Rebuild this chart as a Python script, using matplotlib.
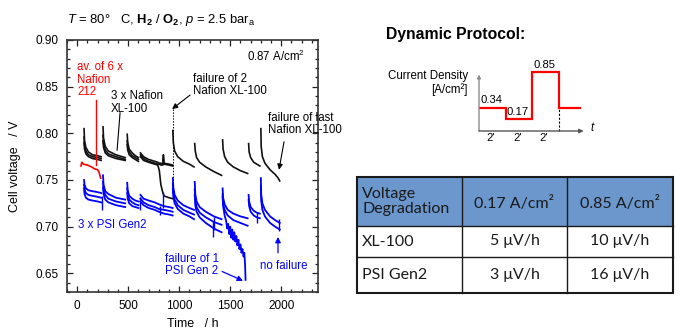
import numpy as np
import matplotlib
matplotlib.use("Agg")
import matplotlib.pyplot as plt
from matplotlib.patches import Rectangle
from matplotlib.ticker import MultipleLocator

plt.rcParams['font.family'] = ['Liberation Sans', 'DejaVu Sans']
plt.rcParams['mathtext.fontset'] = 'custom'
plt.rcParams['mathtext.rm'] = 'Liberation Sans'
plt.rcParams['mathtext.it'] = 'Liberation Sans:italic'
plt.rcParams['mathtext.bf'] = 'Liberation Sans:bold'

# ---------------- data ----------------
# time points (h) of each load-cycle segment, Nafion XL-100 cells
xl_seg_t = [
    [67, 72, 85, 110, 150, 200, 235],
    [253, 258, 275, 305, 380, 470],
    [490, 495, 510, 540, 570, 600],
    [620, 650, 700, 760, 790, 805, 820, 840, 845, 850, 900, 935],
    [937, 942, 955, 985, 1040, 1100, 1145],
    [1152, 1157, 1170, 1200, 1260, 1340, 1415],
    [1425, 1430, 1445, 1475, 1530, 1600, 1670],
    [1680, 1685, 1700, 1730, 1760, 1790],
    [1800, 1803, 1815, 1840, 1890, 1940, 1970, 1985],
]
xl_cell1 = [
    [0.805, 0.792, 0.785, 0.780, 0.777, 0.776, 0.775],
    [0.807, 0.795, 0.786, 0.781, 0.777, 0.774],
    [0.799, 0.790, 0.783, 0.779, 0.776, 0.774],
    [0.779, 0.775, 0.772, 0.770, 0.769, 0.768, 0.768, 0.767, 0.777, 0.768, 0.767, 0.766],
    [0.803, 0.790, 0.781, 0.775, 0.770, 0.767, 0.764],
    [0.789, 0.781, 0.774, 0.769, 0.764, 0.759, 0.755],
    [0.793, 0.783, 0.775, 0.769, 0.764, 0.760, 0.757],
    [0.789, 0.780, 0.774, 0.769, 0.767, 0.765],
    [0.805, 0.786, 0.775, 0.768, 0.761, 0.756, 0.752, 0.749],
]
xl_cell2 = [
    [0.796, 0.787, 0.781, 0.777, 0.775, 0.774, 0.773],
    [0.798, 0.789, 0.782, 0.778, 0.775, 0.772],
    [0.792, 0.786, 0.780, 0.776, 0.774, 0.772],
    [0.777, 0.773, 0.770, 0.768, 0.767, 0.767, 0.766, 0.766, 0.773, 0.767, 0.766, 0.765],
]
xl_cell3 = [
    [0.790, 0.783, 0.778, 0.775, 0.773, 0.772, 0.771],
    [0.792, 0.785, 0.779, 0.776, 0.773, 0.771],
    [0.788, 0.782, 0.777, 0.774, 0.772, 0.770],
    [0.775, 0.771, 0.769, 0.767, 0.766, 0.760, 0.745, 0.736, 0.735, 0.733, 0.731, 0.730],
]

# Nafion 212 (average of 6 cells)
n212_t = [37, 45, 60, 100, 140, 170, 200, 215, 225, 230]
n212_v = [0.765, 0.769, 0.767, 0.766, 0.764, 0.762, 0.761, 0.758, 0.754, 0.752]

# PSI Gen2 cells
psi_seg_t = [
    [67, 72, 85, 110, 150, 200, 235],
    [253, 258, 275, 305, 380, 470],
    [490, 495, 510, 540, 570, 600],
    [620, 650, 700, 760, 800, 850, 900, 935],
    [937, 942, 955, 985, 1040, 1100, 1145],
    [1152, 1157, 1170, 1200, 1260, 1340, 1415],
    [1425, 1430, 1445, 1475, 1530, 1600, 1670],
    [1680, 1685, 1700, 1730, 1760, 1790],
    [1800, 1803, 1815, 1840, 1890, 1940, 1970, 1985],
]
psi_cell1 = [
    [0.750, 0.745, 0.741, 0.739, 0.738, 0.737, 0.736],
    [0.755, 0.745, 0.738, 0.735, 0.731, 0.729],
    [0.747, 0.739, 0.733, 0.730, 0.728, 0.727],
    [0.734, 0.730, 0.728, 0.726, 0.724, 0.722, 0.721, 0.720],
    [0.752, 0.742, 0.734, 0.728, 0.723, 0.720, 0.718],
    [0.748, 0.735, 0.727, 0.721, 0.716, 0.711, 0.708],
    [0.741, 0.731, 0.724, 0.718, 0.714, 0.711, 0.709],
    [0.734, 0.727, 0.721, 0.717, 0.715, 0.714],
    [0.752, 0.735, 0.725, 0.718, 0.711, 0.707, 0.705, 0.704],
]
psi_cell2 = [
    [0.745, 0.740, 0.736, 0.734, 0.733, 0.732, 0.731],
    [0.748, 0.740, 0.734, 0.730, 0.727, 0.725],
    [0.741, 0.735, 0.729, 0.726, 0.724, 0.723],
    [0.730, 0.726, 0.723, 0.721, 0.719, 0.718, 0.717, 0.716],
    [0.746, 0.737, 0.729, 0.723, 0.718, 0.715, 0.713],
    [0.740, 0.729, 0.721, 0.715, 0.710, 0.705, 0.702],
    [0.735, 0.725, 0.718, 0.712, 0.707, 0.704, 0.701],
    [0.729, 0.722, 0.716, 0.712, 0.710, 0.709],
    [0.744, 0.728, 0.718, 0.711, 0.704, 0.700, 0.698, 0.697],
]
psi_cell3 = [
    [0.741, 0.735, 0.731, 0.729, 0.728, 0.727, 0.726],
    [0.742, 0.735, 0.729, 0.726, 0.723, 0.721],
    [0.736, 0.730, 0.725, 0.722, 0.721, 0.720],
    [0.727, 0.723, 0.720, 0.718, 0.716, 0.714, 0.713, 0.712],
    [0.741, 0.732, 0.725, 0.719, 0.714, 0.711, 0.708],
    [0.734, 0.723, 0.716, 0.710, 0.704, 0.698, 0.694],
]
psi3_fail_t = [1425, 1430, 1445, 1460, 1470, 1480, 1490, 1500, 1510, 1520, 1530, 1540,
               1550, 1560, 1570, 1580, 1590, 1600, 1610, 1620, 1630, 1638, 1645, 1650]
psi3_fail_v = [0.732, 0.722, 0.712, 0.706, 0.698, 0.703, 0.692, 0.700, 0.688, 0.697, 0.686, 0.694,
               0.684, 0.690, 0.680, 0.686, 0.676, 0.681, 0.672, 0.676, 0.668, 0.672, 0.660, 0.643]

# short noise spikes in PSI traces
psi_spike_t = [245, 620, 815, 845, 1330, 1345, 1760, 1975]
psi_spike_lo = [0.718, 0.718, 0.712, 0.720, 0.689, 0.696, 0.704, 0.695]
psi_spike_hi = [0.733, 0.732, 0.722, 0.737, 0.706, 0.710, 0.716, 0.708]

# dynamic protocol
protocol_level = [0.34, 0.17, 0.85, 0.34]
protocol_dur = [2, 2, 2, 1.7]
protocol_dur_labels = ["2'", "2'", "2'"]

# table
table_header = ["Voltage\nDegradation", "0.17 A/cm\u00b2", "0.85 A/cm\u00b2"]
table_rows = [["XL-100", "5 \u03bcV/h", "10 \u03bcV/h"],
              ["PSI Gen2", "3 \u03bcV/h", "16 \u03bcV/h"]]

# ---------------- figure ----------------
W, H = 680, 334
fig = plt.figure(figsize=(W / 100, H / 100), dpi=100)

def fx(px):
    return px / W

def fy(py):
    return 1 - py / H

ax = fig.add_axes([fx(67), fy(292), fx(251), 252 / H])
ax.set_xlim(-100, 2360)
ax.set_ylim(0.63, 0.90)


def plot_cell(seg_t, cell, color, lw):
    for t, v in zip(seg_t, cell):
        ax.plot(t, v, color=color, lw=lw, solid_joinstyle='round')


for cell in (xl_cell1, xl_cell2, xl_cell3):
    plot_cell(xl_seg_t, cell, '#111111', 1.2)
for cell in (psi_cell1, psi_cell2, psi_cell3):
    plot_cell(psi_seg_t, cell, '#0000ff', 1.3)
ax.plot(psi3_fail_t, psi3_fail_v, color='#0000ff', lw=1.3)
ax.vlines(psi_spike_t, psi_spike_lo, psi_spike_hi, color='#0000ff', lw=1.0)
ax.plot(n212_t, n212_v, color='red', lw=1.2)

# ticks / frame
ax.xaxis.set_major_locator(MultipleLocator(500))
ax.xaxis.set_minor_locator(MultipleLocator(100))
ax.yaxis.set_major_locator(MultipleLocator(0.05))
ax.yaxis.set_minor_locator(MultipleLocator(0.01))
ax.yaxis.set_major_formatter(matplotlib.ticker.FormatStrFormatter('%.2f'))
ax.tick_params(which='both', direction='in', top=True, right=True, labelsize=8.5,
               color='#222222', width=0.9)
ax.tick_params(which='major', length=4, pad=6)
ax.tick_params(which='minor', length=2)
for s in ax.spines.values():
    s.set_linewidth(1.2)
    s.set_color('#333333')

ax.set_xlabel('Time   / h', fontsize=9)
ax.set_ylabel('Cell voltage   / V', fontsize=9)
ax.yaxis.set_label_coords(-0.185, 0.5)
ax.xaxis.set_label_coords(0.5, -0.105)

# annotations
ann_fs = 8.3
ax.text(2235, 0.882, '0.87 A/cm$^2$', ha='right', va='center', fontsize=ann_fs)
ax.text(0, 0.877, 'av. of 6 x\nNafion\n212', color='red', ha='left', va='top',
        fontsize=ann_fs, linespacing=1.05)
ax.plot([181, 181], [0.836, 0.766], color='red', lw=1.0)
ax.text(332, 0.846, '3 x Nafion\nXL-100', ha='left', va='top', fontsize=ann_fs,
        linespacing=1.05)
ax.plot([420, 391], [0.822, 0.782], color='black', lw=0.8)
ax.text(1135, 0.865, 'failure of 2\nNafion XL-100', ha='left', va='top',
        fontsize=ann_fs, linespacing=1.05)
ax.annotate('', xy=(930, 0.826), xytext=(1106, 0.841),
            arrowprops=dict(arrowstyle='-|>', color='black', lw=0.8, mutation_scale=8,
                            shrinkA=0, shrinkB=0))
ax.plot([935, 935], [0.826, 0.735], color='black', lw=0.7, ls=(0, (1.5, 1.5)))
ax.text(1870, 0.823, 'failure of last\nNafion XL-100', ha='left', va='top',
        fontsize=ann_fs, linespacing=1.05)
ax.annotate('', xy=(1978, 0.761), xytext=(2027, 0.791),
            arrowprops=dict(arrowstyle='-|>', color='black', lw=0.8, mutation_scale=8,
                            shrinkA=0, shrinkB=0))
ax.text(8, 0.702, '3 x PSI Gen2', color='#0000ff', ha='left', va='center',
        fontsize=ann_fs)
ax.text(860, 0.672, 'failure of 1\nPSI Gen 2', color='#0000ff', ha='left', va='top',
        fontsize=ann_fs, linespacing=1.05)
ax.annotate('', xy=(1625, 0.642), xytext=(1420, 0.652),
            arrowprops=dict(arrowstyle='-|>', color='#0000ff', lw=0.9, mutation_scale=8,
                            shrinkA=0, shrinkB=0))
ax.text(1790, 0.658, 'no failure', color='#0000ff', ha='left', va='center',
        fontsize=ann_fs)
ax.annotate('', xy=(1968, 0.689), xytext=(1968, 0.672),
            arrowprops=dict(arrowstyle='-|>', color='#0000ff', lw=0.9, mutation_scale=8,
                            shrinkA=0, shrinkB=0))

# title
fig.text(fx(67), fy(20), r'$T$ = 80$\degree$   C, $\mathbf{H_2}$ / $\mathbf{O_2}$, $p$ = 2.5 bar$_\mathrm{a}$',
         ha='left', va='center', fontsize=9.4)

# ---------------- protocol inset ----------------
fig.text(fx(386), fy(34), 'Dynamic Protocol:', ha='left', va='center', fontsize=11.3,
         fontweight='bold')
axp = fig.add_axes([fx(479), fy(131), fx(106), 62 / H])
axp.set_xlim(0, 8)
axp.set_ylim(0, 0.9)
axp.axis('off')
edges = np.concatenate([[0], np.cumsum(protocol_dur)])
axp.annotate('', xy=(0, 0.82), xytext=(0, 0),
             arrowprops=dict(arrowstyle='-|>', color='#8c8c8c', lw=1.0, mutation_scale=5,
                             shrinkA=0, shrinkB=0), annotation_clip=False)
axp.annotate('', xy=(7.9, 0), xytext=(0, 0),
             arrowprops=dict(arrowstyle='-|>', color='#555555', lw=1.0, mutation_scale=6,
                             shrinkA=0, shrinkB=0), annotation_clip=False)
axp.stairs(protocol_level, edges, baseline=None, color='red', lw=1.6, clip_on=False)
axp.plot([edges[3], edges[3]], [0, protocol_level[3]], color='black', lw=0.8,
         ls=(0, (2, 1.5)), clip_on=False)
for i in range(3):
    axp.text(edges[i] + 0.08, protocol_level[i] + 0.04, f'{protocol_level[i]:.2f}',
             ha='left', va='bottom', fontsize=8.1)
    axp.text((edges[i] + edges[i + 1]) / 2 - 0.1, -0.1, protocol_dur_labels[i],
             ha='center', va='center', fontsize=8.1)
axp.text(8.5, 0.04, 't', fontstyle='italic', ha='center', va='center', fontsize=8.3)
axp.text(-0.83, 0.80, 'Current Density', ha='right', va='center', fontsize=8.3)
axp.text(-0.83, 0.60, '[A/cm\u00b2]', ha='right', va='center', fontsize=8.3)

# ---------------- table ----------------
axt = fig.add_axes([0, 0, 1, 1])
axt.set_xlim(0, W)
axt.set_ylim(H, 0)
axt.axis('off')
col_x = [357, 462, 567, 673]
row_y = [177, 226, 257, 293]
axt.add_patch(Rectangle((col_x[0], row_y[0]), col_x[-1] - col_x[0], row_y[1] - row_y[0],
                        facecolor='#6b97cc', edgecolor='none'))
for x in col_x[1:-1]:
    axt.plot([x, x], [row_y[0], row_y[-1]], color='#1a1a1a', lw=1.0)
for y in row_y[1:-1]:
    axt.plot([col_x[0], col_x[-1]], [y, y], color='#1a1a1a', lw=1.0)
axt.add_patch(Rectangle((col_x[0], row_y[0]), col_x[-1] - col_x[0], row_y[-1] - row_y[0],
                        facecolor='none', edgecolor='#1a1a1a', lw=1.5))
tfont = ['Lato', 'DejaVu Sans']
tfs = 11.5
axt.text(col_x[0] + 5, (row_y[0] + row_y[1]) / 2, table_header[0], ha='left', va='center',
         fontsize=tfs, family=tfont, linespacing=1.1, color='#1a1a1a')
for j in (1, 2):
    axt.text((col_x[j] + col_x[j + 1]) / 2, (row_y[0] + row_y[1]) / 2 + 2, table_header[j],
             ha='center', va='center', fontsize=tfs, family=tfont, color='#1a1a1a')
for i, row in enumerate(table_rows):
    yc = (row_y[i + 1] + row_y[i + 2]) / 2
    axt.text(col_x[0] + 5, yc, row[0], ha='left', va='center', fontsize=tfs, family=tfont,
             color='#1a1a1a')
    for j in (1, 2):
        axt.text((col_x[j] + col_x[j + 1]) / 2, yc, row[j], ha='center', va='center',
                 fontsize=tfs, family=tfont, color='#1a1a1a')

fig.savefig('out.png', dpi=100)
